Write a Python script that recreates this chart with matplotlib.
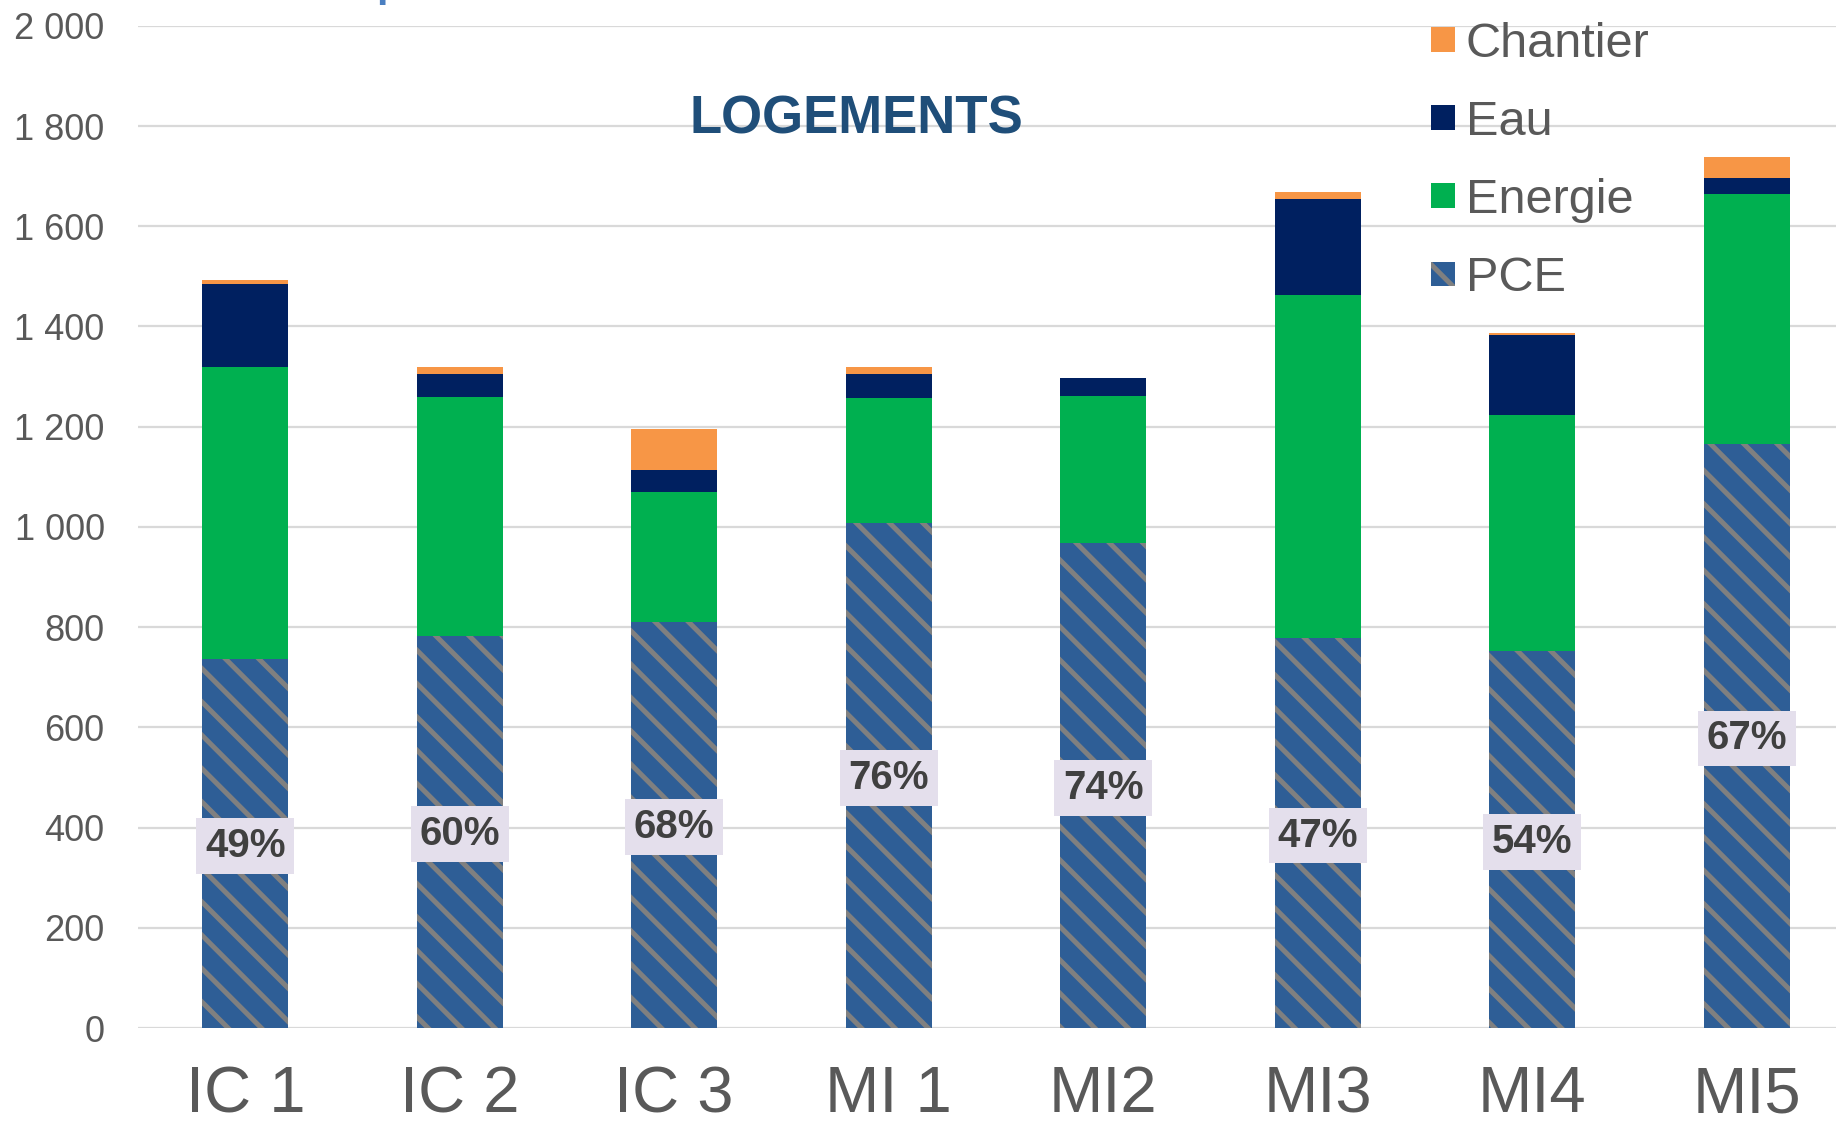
import numpy as np
import matplotlib
matplotlib.use("Agg")
import matplotlib.pyplot as plt
from matplotlib.patches import Patch
from matplotlib.ticker import FuncFormatter, MultipleLocator

# data
categories = ["IC 1", "IC 2", "IC 3", "MI 1", "MI2", "MI3", "MI4", "MI5"]
pce = [736, 783, 811, 1007, 967, 778, 752, 1166]
energie = [584, 476, 259, 250, 295, 685, 472, 498]
eau = [164, 47, 44, 49, 35, 191, 159, 32]
chantier = [9, 14, 82, 14, 0, 14, 3, 42]
pce_share = [49, 60, 68, 76, 74, 47, 54, 67]

plt.rcParams["font.family"] = ["Liberation Sans", "DejaVu Sans"]
plt.rcParams["hatch.linewidth"] = 3.6
narrow = ["Liberation Sans Narrow", "Liberation Sans", "DejaVu Sans"]

W, H = 1836, 1126
fig = plt.figure(figsize=(W / 100, H / 100), dpi=100)
ax = fig.add_axes([138 / W, 1 - 1028 / H, (1854 - 138) / W, (1028 - 25.8) / H])

x = np.arange(len(categories))
width = 0.40
pce = np.array(pce)
energie = np.array(energie)
eau = np.array(eau)
chantier = np.array(chantier)

# stacked bars
ax.bar(x, pce, width, color="#2e5e96", edgecolor="#808080", linewidth=0,
       hatch="\\", zorder=2)
ax.bar(x, energie, width, bottom=pce, color="#00b050", linewidth=0, zorder=2)
ax.bar(x, eau, width, bottom=pce + energie, color="#002060", linewidth=0, zorder=2)
ax.bar(x, chantier, width, bottom=pce + energie + eau, color="#f79646",
       linewidth=0, zorder=2)

# share labels in the middle of the PCE part
for xi, v, s in zip(x, pce, pce_share):
    ax.text(xi, v / 2 - 5, f"{s}%", ha="center", va="center", fontsize=29,
            fontweight="bold", color="#404040", zorder=4,
            bbox=dict(boxstyle="square,pad=0.22", facecolor="#e4dfec",
                      edgecolor="none"))

ax.set_xlim(-0.5, len(categories) - 0.5)
ax.set_ylim(0, 2000)
ax.yaxis.set_major_locator(MultipleLocator(200))
ax.yaxis.set_major_formatter(FuncFormatter(lambda v, p: f"{v:,.0f}".replace(",", " ")))
ax.grid(axis="y", color="#d9d9d9", linewidth=1.6, zorder=0)
ax.set_axisbelow(True)
for sp in ax.spines.values():
    sp.set_visible(False)

ax.set_xticks(x)
ax.set_xticklabels(categories, fontsize=47, color="#595959", family=narrow)
ax.tick_params(axis="x", length=0, pad=27)
ax.tick_params(axis="y", length=0, pad=24, labelsize=26, labelcolor="#595959")
for lab in ax.get_yticklabels():
    lab.set_family(narrow)

# title inside the plot
fig.text(856 / W, 1 - 120 / H, "LOGEMENTS", ha="center", va="center",
         fontsize=38, fontweight="bold", color="#1f4e79")

# clipped heading above the chart, only a descender is visible
fig.text(376 / W, 1 + 4 / H, "p", ha="left", va="baseline", fontsize=30,
         fontweight="bold", color="#4a7fc1")

# legend
handles = [
    Patch(facecolor="#f79646", label="Chantier"),
    Patch(facecolor="#002060", label="Eau"),
    Patch(facecolor="#00b050", label="Energie"),
    Patch(facecolor="#2e5e96", edgecolor="#808080", linewidth=0,
          hatch="\\", label="PCE"),
]
fig.legend(handles=handles, loc="upper left", bbox_to_anchor=(1431 / W, 1 - 22 / H),
           frameon=False, fontsize=35, labelcolor="#595959",
           handlelength=0.5, handleheight=0.4, handletextpad=0.22,
           labelspacing=0.68, borderpad=0, borderaxespad=0)

fig.savefig("out.png", dpi=100)
